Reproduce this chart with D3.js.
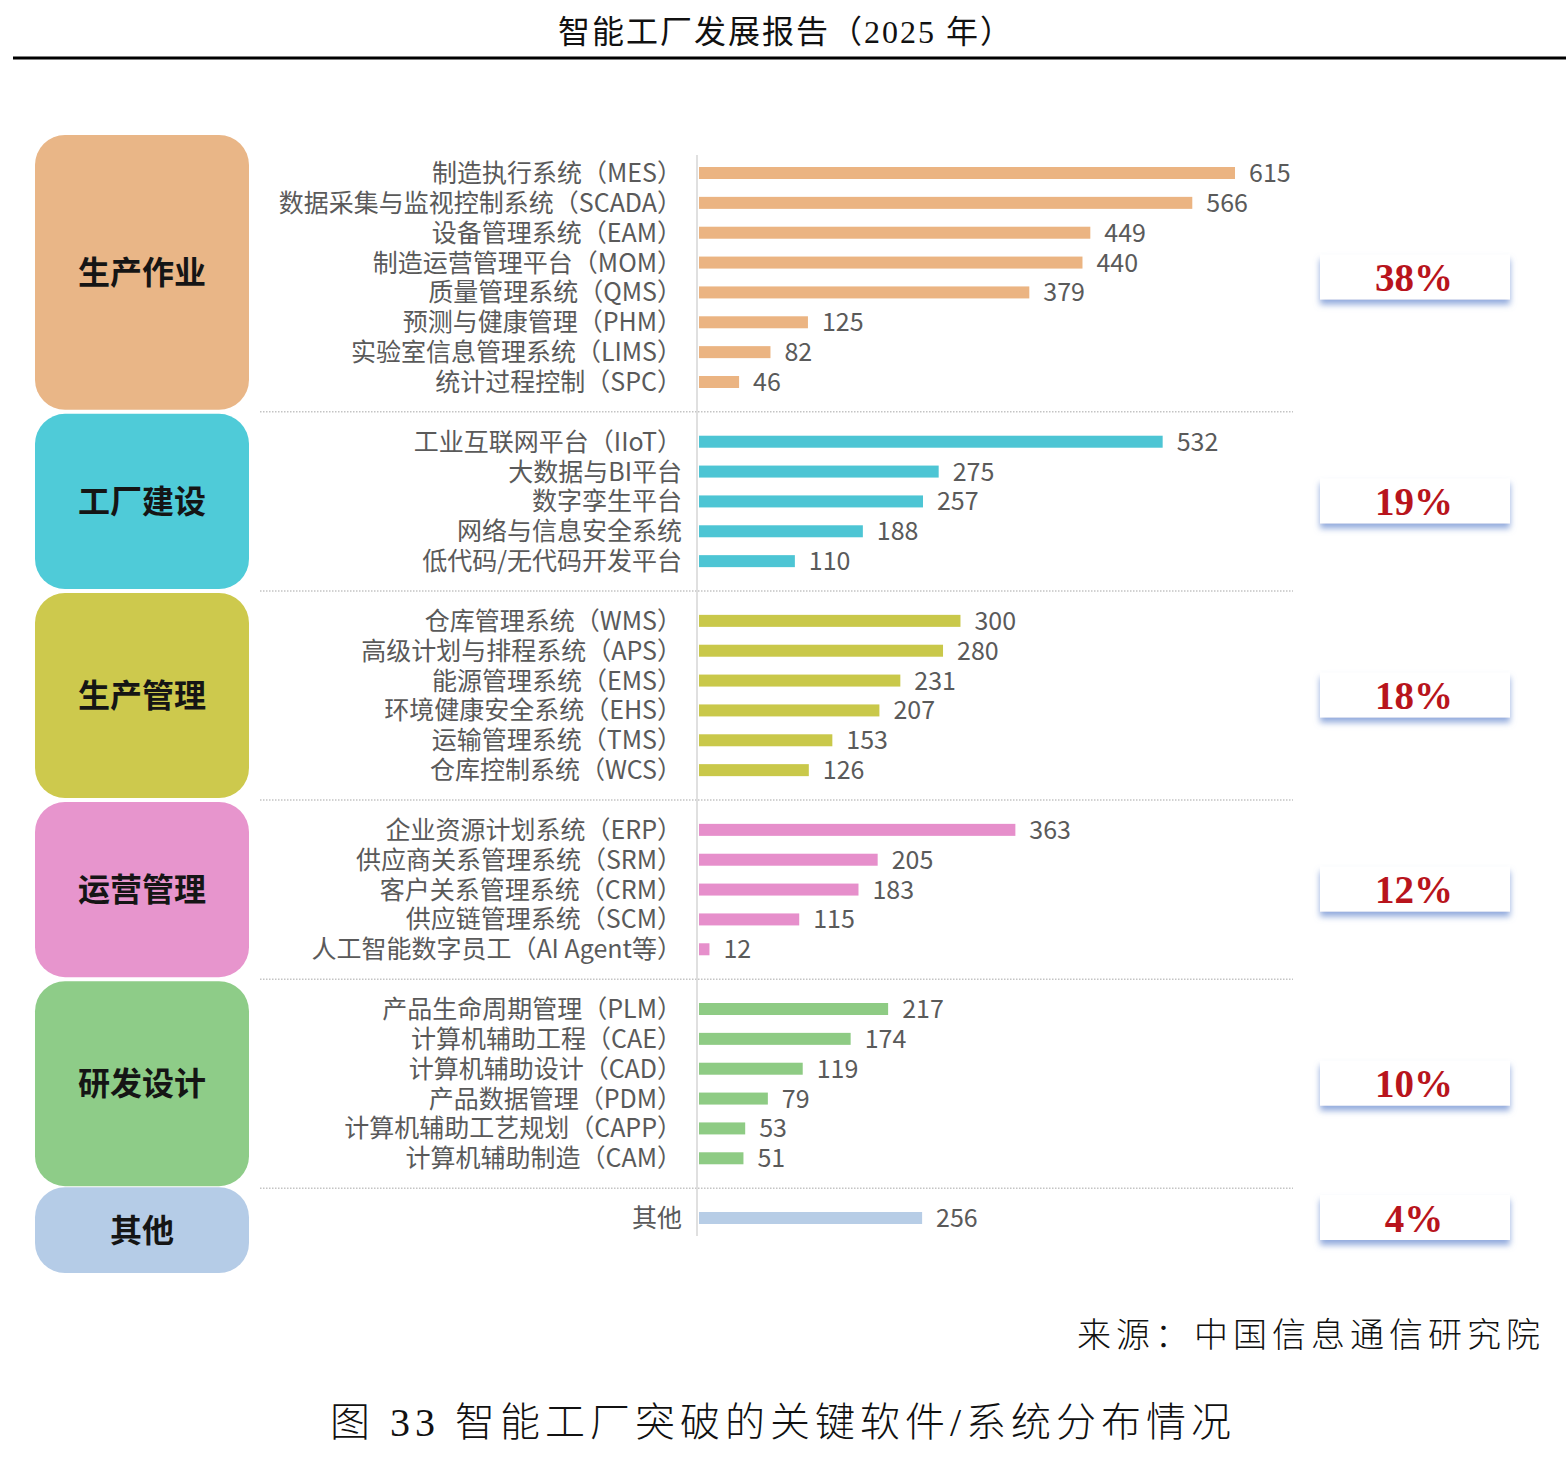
<!DOCTYPE html>
<html>
<head>
<meta charset="utf-8">
<script src="https://cdn.jsdelivr.net/npm/d3@7"></script>
<style>
  body { margin: 0; background: #fff; }
  svg { display: block; }
</style>
</head>
<body>
<script>
// chart data
var groupNames = ["生产作业", "工厂建设", "生产管理", "运营管理", "研发设计", "其他"];
var groupShares = ["38%", "19%", "18%", "12%", "10%", "4%"];

var prodOpsLabels = ["制造执行系统（MES）", "数据采集与监视控制系统（SCADA）", "设备管理系统（EAM）", "制造运营管理平台（MOM）",
  "质量管理系统（QMS）", "预测与健康管理（PHM）", "实验室信息管理系统（LIMS）", "统计过程控制（SPC）"];
var prodOpsValues = [615, 566, 449, 440, 379, 125, 82, 46];

var factoryLabels = ["工业互联网平台（IIoT）", "大数据与BI平台", "数字孪生平台", "网络与信息安全系统", "低代码/无代码开发平台"];
var factoryValues = [532, 275, 257, 188, 110];

var prodMgmtLabels = ["仓库管理系统（WMS）", "高级计划与排程系统（APS）", "能源管理系统（EMS）", "环境健康安全系统（EHS）",
  "运输管理系统（TMS）", "仓库控制系统（WCS）"];
var prodMgmtValues = [300, 280, 231, 207, 153, 126];

var opsMgmtLabels = ["企业资源计划系统（ERP）", "供应商关系管理系统（SRM）", "客户关系管理系统（CRM）", "供应链管理系统（SCM）",
  "人工智能数字员工（AI Agent等）"];
var opsMgmtValues = [363, 205, 183, 115, 12];

var rndLabels = ["产品生命周期管理（PLM）", "计算机辅助工程（CAE）", "计算机辅助设计（CAD）", "产品数据管理（PDM）",
  "计算机辅助工艺规划（CAPP）", "计算机辅助制造（CAM）"];
var rndValues = [217, 174, 119, 79, 53, 51];

var otherLabels = ["其他"];
var otherValues = [256];

var allLabels = [prodOpsLabels, factoryLabels, prodMgmtLabels, opsMgmtLabels, rndLabels, otherLabels];
var allValues = [prodOpsValues, factoryValues, prodMgmtValues, opsMgmtValues, rndValues, otherValues];

// colours
var boxColors = ["#E9B687", "#4FCBD8", "#CDC94D", "#E795CD", "#8ECC88", "#B5CCE7"];
var barColors = ["#EBB482", "#4DC5D4", "#C9C84A", "#E68FCB", "#8ECB84", "#B7CDE6"];

var width = 1566, height = 1463;

var svg = d3.select("body").append("svg")
  .attr("width", width)
  .attr("height", height);

var defs = svg.append("defs");
var shadow = defs.append("filter").attr("id", "pctShadow")
  .attr("x", "-10%").attr("y", "-30%").attr("width", "120%").attr("height", "180%");
shadow.append("feDropShadow")
  .attr("dx", 0).attr("dy", 5).attr("stdDeviation", 3)
  .attr("flood-color", "#7e9bd6").attr("flood-opacity", 0.85);

// header
svg.append("text")
  .attr("x", 786).attr("y", 43)
  .attr("text-anchor", "middle")
  .style("font-family", "'Liberation Serif', 'Noto Sans CJK SC', serif")
  .style("font-size", "32px")
  .style("letter-spacing", "2px")
  .style("fill", "#111")
  .text("智能工厂发展报告（2025 年）");

svg.append("line")
  .attr("x1", 13).attr("x2", 1566)
  .attr("y1", 58).attr("y2", 58)
  .attr("stroke", "#000").attr("stroke-width", 3);

// build rows: each group plus one separator slot between groups
var rows = [], separators = [], groupSpans = [];
var slot = 0;
allLabels.forEach(function(labels, g) {
  var first = slot;
  labels.forEach(function(lab, i) {
    rows.push({ group: g, label: lab, value: allValues[g][i], slot: slot });
    slot++;
  });
  groupSpans.push({ group: g, first: first, last: slot - 1 });
  if (g < allLabels.length - 1) {
    separators.push(slot);
    slot++;
  }
});

var yScale = d3.scaleLinear()
  .domain([0, slot - 1])
  .range([173, 1218]);

var xScale = d3.scaleLinear()
  .domain([0, 700])
  .range([699, 699 + 700 * (536 / 615)]);

// group boxes on the left
var boxes = svg.append("g");
groupSpans.forEach(function(s, g) {
  var top = g === 0 ? yScale(s.first) - 38 : yScale(s.first - 1) + 2;
  var bottom = g === groupSpans.length - 1 ? yScale(s.last) + 55 : yScale(s.last + 1) - 2;
  if (g === groupSpans.length - 1) top -= 3;
  s.top = top; s.bottom = bottom;
  boxes.append("rect")
    .attr("x", 35).attr("y", top)
    .attr("width", 214).attr("height", bottom - top)
    .attr("rx", 30).attr("ry", 30)
    .attr("fill", boxColors[g]);
  boxes.append("text")
    .attr("x", 142).attr("y", (top + bottom) / 2)
    .attr("dy", "0.36em")
    .attr("text-anchor", "middle")
    .style("font-family", "'Noto Sans CJK SC', sans-serif")
    .style("font-weight", "bold")
    .style("font-size", "32px")
    .style("fill", "#151515")
    .text(groupNames[g]);
});

// dotted separators
svg.append("g").selectAll("line")
  .data(separators)
  .join("line")
  .attr("x1", 260).attr("x2", 1293)
  .attr("y1", d => yScale(d)).attr("y2", d => yScale(d))
  .attr("stroke", "#c4c4c4")
  .attr("stroke-width", 1.5)
  .attr("stroke-dasharray", "1.5,1.5");

// vertical axis line
svg.append("line")
  .attr("x1", xScale(0) - 2).attr("x2", xScale(0) - 2)
  .attr("y1", 155).attr("y2", 1236)
  .attr("stroke", "#d6d6d6").attr("stroke-width", 1.5);

// bars
var chart = svg.append("g");
chart.selectAll("rect.bar")
  .data(rows)
  .join("rect")
  .attr("class", "bar")
  .attr("x", xScale(0))
  .attr("y", d => yScale(d.slot) - 6)
  .attr("width", d => xScale(d.value) - xScale(0))
  .attr("height", 12)
  .attr("fill", d => barColors[d.group]);

// category labels
chart.selectAll("text.cat")
  .data(rows)
  .join("text")
  .attr("class", "cat")
  .attr("x", 682)
  .attr("y", d => yScale(d.slot))
  .attr("dy", "0.36em")
  .attr("text-anchor", "end")
  .style("font-family", "'Noto Sans CJK SC', sans-serif")
  .style("font-size", "25px")
  .style("fill", "#5a5a5a")
  .text(d => d.label);

// value labels
chart.selectAll("text.val")
  .data(rows)
  .join("text")
  .attr("class", "val")
  .attr("x", d => xScale(d.value) + 14)
  .attr("y", d => yScale(d.slot))
  .attr("dy", "0.36em")
  .style("font-family", "'Noto Sans CJK SC', sans-serif")
  .style("font-size", "25px")
  .style("fill", "#5a5a5a")
  .text(d => d.value);

// share boxes on the right
var pct = svg.append("g");
groupSpans.forEach(function(s, g) {
  var cy = (yScale(s.first) + yScale(s.last)) / 2;
  pct.append("rect")
    .attr("x", 1320).attr("y", cy - 23)
    .attr("width", 190).attr("height", 45)
    .attr("fill", "#fff")
    .attr("filter", "url(#pctShadow)");
  pct.append("text")
    .attr("x", 1414).attr("y", cy)
    .attr("dy", "0.35em")
    .attr("text-anchor", "middle")
    .style("font-family", "'Liberation Serif', 'DejaVu Serif', serif")
    .style("font-weight", "bold")
    .style("font-size", "39px")
    .style("fill", "#B8141C")
    .text(groupShares[g]);
});

// source and caption
svg.append("text")
  .attr("x", 1545).attr("y", 1347)
  .attr("text-anchor", "end")
  .style("font-family", "'Noto Sans CJK SC', serif")
  .style("font-size", "34px")
  .style("font-weight", 300)
  .style("letter-spacing", "5px")
  .style("fill", "#111")
  .text("来源：中国信息通信研究院");

svg.append("text")
  .attr("x", 330).attr("y", 1436)
  .style("font-family", "'Liberation Serif', 'Noto Sans CJK SC', serif")
  .style("font-size", "40px")
  .style("font-weight", 300)
  .style("letter-spacing", "5px")
  .style("fill", "#111")
  .text("图 33 智能工厂突破的关键软件/系统分布情况");
</script>
</body>
</html>
